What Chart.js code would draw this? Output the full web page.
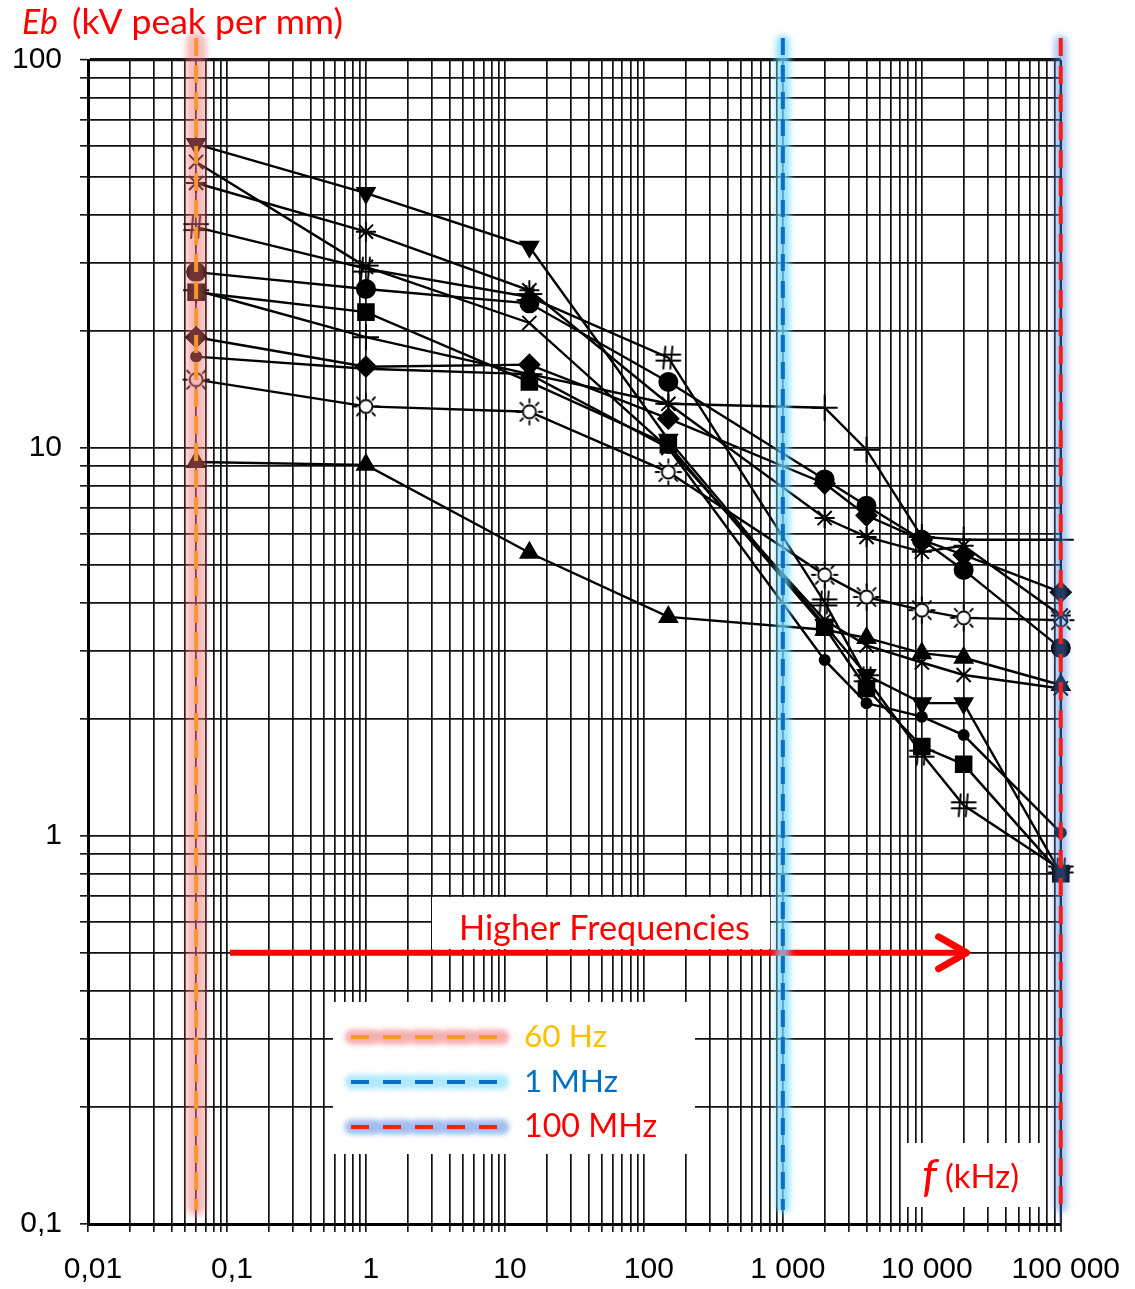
<!DOCTYPE html>
<html>
<head>
<meta charset="utf-8">
<script src="https://cdn.jsdelivr.net/npm/chart.js@4.4.1/dist/chart.umd.min.js"></script>
<style>
  html, body { margin: 0; padding: 0; background: #fff; }
  canvas { display: block; }
</style>
</head>
<body>
<canvas id="chart" width="1135" height="1289"></canvas>
<script>
// Test frequencies (kHz) at which breakdown strength was measured
const frequencies = [0.06, 1, 15, 150, 2000, 4000, 10000, 20000, 100000];

// Breakdown strength Eb (kV peak per mm), one list per material
const seriesTriDown = [60.7, 45.4, 33.0, 10.5, 3.5, 2.6, 2.2, 2.2, 0.8];
const seriesCross   = [54.6, 29.3, 21.0, 10.0, 3.6, 3.1, 2.8, 2.6, 2.4];
const seriesStar    = [48.2, 36.1, 25.5, 13.0, 6.6, 5.9, 5.4, 5.6, 3.7];
const seriesHash    = [37.1, 29.0, 24.5, 17.1, 4.0, 2.55, 1.63, 1.2, 0.82];
const seriesCircle  = [28.4, 25.7, 23.6, 14.8, 8.3, 7.1, 5.8, 4.85, 3.05];
const seriesSquare  = [25.2, 22.4, 14.8, 10.2, 3.45, 2.4, 1.7, 1.53, 0.8];
const seriesPlus    = [25.5, 19.3, 15.5, 13.0, 12.7, 9.9, 5.9, 5.8, 5.8];
const seriesDiamond = [19.3, 16.2, 16.4, 11.9, 8.1, 6.7, 5.8, 5.3, 4.25];
const seriesDot     = [17.2, 16.0, 15.5, 10.0, 2.84, 2.2, 2.03, 1.82, 1.02];
const seriesSun     = [15.0, 12.8, 12.4, 8.67, 4.71, 4.13, 3.82, 3.65, 3.6];
const seriesTriUp   = [9.2, 9.05, 5.37, 3.67, 3.4, 3.24, 2.96, 2.88, 2.45];

// Axis tick labels (decades only)
const xTickLabels = ['0,01', '0,1', '1', '10', '100', '1 000', '10 000', '100 000'];
const yTickLabels = ['0,1', '1', '10', '100'];

// Reference frequencies marked with vertical dashed lines (kHz)
const refFrequencies = [0.06, 1000, 100000];
const refNames = ['60 Hz', '1 MHz', '100 MHz'];

// Hand-drawn marker glyphs
function makeHashGlyph() {
  const c = document.createElement('canvas');
  c.width = 28; c.height = 28;
  const g = c.getContext('2d');
  g.strokeStyle = '#000'; g.lineWidth = 2; g.lineCap = 'round';
  g.beginPath();
  g.moveTo(11, 3); g.lineTo(9, 25);
  g.moveTo(18, 3); g.lineTo(16, 25);
  g.moveTo(2, 11); g.lineTo(26, 11);
  g.moveTo(2, 17); g.lineTo(26, 17);
  g.stroke();
  return c;
}
function makeSunGlyph() {
  const c = document.createElement('canvas');
  c.width = 30; c.height = 30;
  const g = c.getContext('2d');
  g.strokeStyle = '#000'; g.lineWidth = 1.8;
  g.beginPath(); g.arc(15, 15, 6.5, 0, Math.PI * 2);
  g.fillStyle = '#fff'; g.fill(); g.stroke();
  g.beginPath();
  for (let i = 0; i < 8; i++) {
    const a = i * Math.PI / 4;
    g.moveTo(15 + Math.cos(a) * 8.5, 15 + Math.sin(a) * 8.5);
    g.lineTo(15 + Math.cos(a) * 13.5, 15 + Math.sin(a) * 13.5);
  }
  g.stroke();
  return c;
}
const hashGlyph = makeHashGlyph();
const sunGlyph = makeSunGlyph();

const seriesDefs = [
  { values: seriesTriDown, style: 'triangle', rotation: 180, radius: 10 },
  { values: seriesCross,   style: 'crossRot', radius: 10 },
  { values: seriesStar,    style: 'star',     radius: 10 },
  { values: seriesHash,    style: hashGlyph,  radius: 13 },
  { values: seriesCircle,  style: 'circle',   radius: 9 },
  { values: seriesSquare,  style: 'rect',     radius: 11 },
  { values: seriesPlus,    style: 'cross',    radius: 13 },
  { values: seriesDiamond, style: 'rectRot',  radius: 10 },
  { values: seriesDot,     style: 'circle',   radius: 5 },
  { values: seriesSun,     style: sunGlyph,   radius: 14 },
  { values: seriesTriUp,   style: 'triangle', rotation: 0, radius: 10 }
];

const datasets = seriesDefs.map(d => ({
  data: frequencies.map((f, i) => ({ x: f, y: d.values[i] })),
  showLine: true,
  borderColor: '#000',
  borderWidth: 2.4,
  backgroundColor: '#000',
  pointStyle: d.style,
  pointRotation: d.rotation || 0,
  pointRadius: d.radius,
  pointHoverRadius: d.radius,
  pointBackgroundColor: '#000',
  pointBorderColor: '#000',
  pointBorderWidth: 2,
  clip: false,
  tension: 0
}));

function logGrid(minExp, maxExp) {
  const out = [];
  for (let e = minExp; e < maxExp; e++) {
    for (let m = 1; m < 10; m++) out.push(+(m * Math.pow(10, e)).toPrecision(6));
  }
  out.push(+Math.pow(10, maxExp).toPrecision(6));
  return out;
}
function decadeLabel(value, labels, firstExp) {
  const l = Math.log10(value);
  const r = Math.round(l);
  if (Math.abs(l - r) > 1e-6) return '';
  return labels[r - firstExp] || '';
}

const SANS = '"Liberation Sans", Arial, sans-serif';
const NOTE = 'Lato, "Open Sans", sans-serif';

// Fit a text run into a given width
function fitFont(ctx, text, width, style) {
  ctx.font = style + ' 40px ' + NOTE;
  const w = ctx.measureText(text).width;
  return style + ' ' + (40 * width / w).toFixed(2) + 'px ' + NOTE;
}
function drawText(ctx, text, left, width, cy, color, style) {
  ctx.font = fitFont(ctx, text, width, style || '');
  ctx.fillStyle = color;
  ctx.textAlign = 'left';
  ctx.textBaseline = 'middle';
  ctx.fillText(text, left, cy);
}

function glowStroke(ctx, color, width, blur, draw) {
  ctx.save();
  ctx.filter = 'blur(' + blur + 'px)';
  ctx.strokeStyle = color;
  ctx.lineWidth = width;
  ctx.lineCap = 'round';
  draw();
  ctx.restore();
}

const refStyles = [
  { line: '#F7962F', glow: 'rgba(238,110,110,0.48)', glowWidth: 20, under: null, dash: [18, 9] },
  { line: '#0B6FC3', glow: 'rgba(110,215,255,0.75)', glowWidth: 14, under: null, dash: [17, 10] },
  { line: '#FF1A1A', glow: 'rgba(80,135,225,0.5)', glowWidth: 13, under: '#1E3766', dash: [18, 10] }
];
const refTextColors = ['#FFC000', '#0070C0', '#FF0000'];

const overlay = {
  id: 'overlay',
  afterDatasetsDraw(chart) {
    const ctx = chart.ctx;
    const xs = chart.scales.x, ys = chart.scales.y;
    const area = chart.chartArea;

    // Annotation boxes
    ctx.save();
    ctx.fillStyle = '#fff';
    ctx.fillRect(432, 897, 338, 52);
    ctx.fillRect(333, 1002, 362, 152);
    ctx.fillRect(903, 1143, 143, 64);
    ctx.restore();

    // "Higher Frequencies" arrow
    const ay = ys.getPixelForValue(0.5);
    const ax0 = xs.getPixelForValue(0.1) + 3;
    const ax1 = xs.getPixelForValue(21000);
    ctx.save();
    ctx.strokeStyle = '#FF0000';
    ctx.lineWidth = 6;
    ctx.beginPath(); ctx.moveTo(ax0, ay); ctx.lineTo(ax1 - 3, ay); ctx.stroke();
    ctx.lineCap = 'round'; ctx.lineJoin = 'round'; ctx.lineWidth = 7;
    ctx.beginPath();
    ctx.moveTo(ax1 - 28, ay - 16); ctx.lineTo(ax1, ay); ctx.lineTo(ax1 - 28, ay + 16);
    ctx.stroke();
    ctx.restore();
    drawText(ctx, 'Higher Frequencies', 459, 291, 929, '#FF0000');

    // Vertical reference lines
    const yTop = area.top - 22, yBot = area.bottom - 14;
    refFrequencies.forEach((f, i) => {
      const s = refStyles[i];
      const px = xs.getPixelForValue(f);
      glowStroke(ctx, s.glow, s.glowWidth, 3, () => {
        ctx.beginPath(); ctx.moveTo(px, yTop + 4); ctx.lineTo(px, yBot - 4); ctx.stroke();
      });
      ctx.save();
      if (s.under) {
        ctx.strokeStyle = s.under; ctx.lineWidth = 2.2;
        ctx.beginPath(); ctx.moveTo(px, area.top); ctx.lineTo(px, area.bottom); ctx.stroke();
      }
      ctx.strokeStyle = s.line; ctx.lineWidth = 4; ctx.setLineDash(s.dash);
      ctx.beginPath(); ctx.moveTo(px, yTop); ctx.lineTo(px, yBot); ctx.stroke();
      ctx.restore();
    });

    // Legend for the reference lines
    const rows = [1037, 1082, 1127];
    refNames.forEach((name, i) => {
      const s = refStyles[i];
      const y = rows[i];
      ctx.save();
      ctx.filter = 'blur(2.5px)';
      ctx.strokeStyle = s.glow.replace(/[\d.]+\)$/, '0.55)');
      ctx.lineWidth = 15; ctx.lineCap = 'round';
      ctx.setLineDash([22, 10]);
      ctx.beginPath(); ctx.moveTo(352, y); ctx.lineTo(502, y); ctx.stroke();
      ctx.restore();
      ctx.save();
      ctx.strokeStyle = s.line; ctx.lineWidth = 4; ctx.setLineDash([18, 14]);
      ctx.beginPath(); ctx.moveTo(351, y); ctx.lineTo(506, y); ctx.stroke();
      ctx.restore();
      drawText(ctx, name, 524, [83, 94, 133][i], y, refTextColors[i]);
    });

    // Axis titles
    drawText(ctx, 'Eb', 22, 36, 23, '#FF0000', 'italic');
    drawText(ctx, '(kV peak per mm)', 72, 271, 23, '#FF0000');
    drawText(ctx, 'f', 922, 15, 1177, '#FF0000', 'italic');
    drawText(ctx, '(kHz)', 945, 74, 1177, '#FF0000');
  }
};

const gridColor = '#111';

new Chart(document.getElementById('chart'), {
  type: 'scatter',
  data: { datasets },
  plugins: [overlay],
  options: {
    responsive: false,
    animation: false,
    devicePixelRatio: 1,
    layout: { padding: { top: 60, right: 72, left: 0, bottom: 0 } },
    plugins: { legend: { display: false }, tooltip: { enabled: false } },
    scales: {
      x: {
        type: 'logarithmic',
        min: 0.01,
        max: 100000,
        afterBuildTicks: s => { s.ticks = logGrid(-2, 5).map(v => ({ value: v })); },
        afterFit: s => { s.height = 65; },
        border: { display: true, width: 3, color: '#000' },
        grid: {
          color: gridColor,
          lineWidth: c => (c.tick && c.tick.value >= 100000 ? 2 : 1.7),
          tickLength: 8,
          tickColor: '#111',
          tickWidth: 1.6
        },
        ticks: {
          autoSkip: false, maxRotation: 0, minRotation: 0, padding: 20, labelOffset: 5,
          color: '#000', font: { family: SANS, size: 30 },
          callback: v => decadeLabel(v, xTickLabels, -2)
        }
      },
      y: {
        type: 'logarithmic',
        min: 0.1,
        max: 100,
        afterBuildTicks: s => { s.ticks = logGrid(-1, 2).map(v => ({ value: v })); },
        afterFit: s => { s.width = 88; },
        border: { display: true, width: 3, color: '#000' },
        grid: {
          color: gridColor,
          lineWidth: c => (c.tick && c.tick.value >= 100 ? 3.2 : 1.7),
          tickLength: 8,
          tickColor: '#111',
          tickWidth: 1.6
        },
        ticks: {
          autoSkip: false, padding: 18,
          color: '#000', font: { family: SANS, size: 30 },
          callback: v => decadeLabel(v, yTickLabels, -1)
        }
      }
    }
  }
});
</script>
</body>
</html>
